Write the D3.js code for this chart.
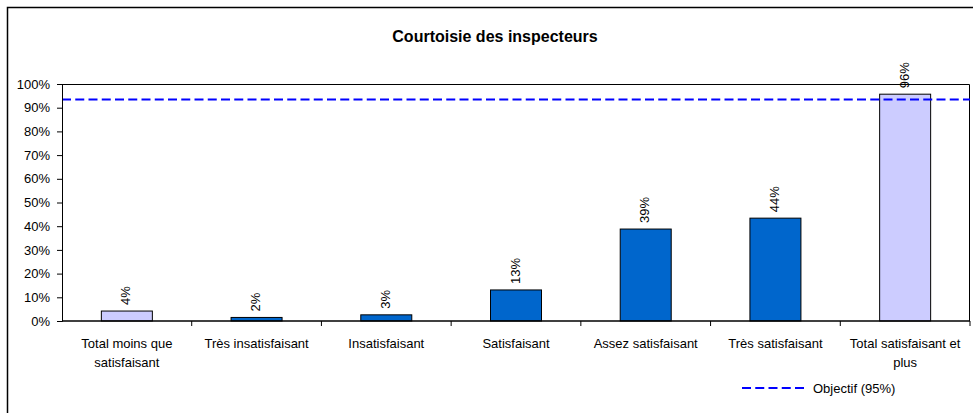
<!DOCTYPE html>
<html>
<head>
<meta charset="utf-8">
<script src="https://cdn.jsdelivr.net/npm/d3@7"></script>
<style>
  body { margin: 0; background: #fff; }
  svg text { font-family: Arial, "Liberation Sans", sans-serif; fill: #000; }
</style>
</head>
<body>
<svg id="chart" width="973" height="413"></svg>
<script>
var categories = ["Total moins que satisfaisant", "Très insatisfaisant", "Insatisfaisant",
                  "Satisfaisant", "Assez satisfaisant", "Très satisfaisant", "Total satisfaisant et plus"];
var values = [4.2, 1.5, 2.6, 13.1, 38.8, 43.4, 95.7];
var labels = ["4%", "2%", "3%", "13%", "39%", "44%", "96%"];
var isTotal = [true, false, false, false, false, false, true];
var objectif = 93.5;
var yTicks = [0, 10, 20, 30, 40, 50, 60, 70, 80, 90, 100];

var svg = d3.select("#chart"),
    margin = {top: 84, right: 3, bottom: 92, left: 62},
    width = +svg.attr("width") - margin.left - margin.right,
    height = +svg.attr("height") - margin.top - margin.bottom;

// outer frame (only top and left visible)
svg.append("rect")
    .attr("x", 7.5).attr("y", 7.5)
    .attr("width", 1000).attr("height", 500)
    .attr("fill", "none").attr("stroke", "#000").attr("stroke-width", 1.5);

svg.append("text")
    .attr("x", 495).attr("y", 42)
    .attr("text-anchor", "middle")
    .style("font-size", "16px").style("font-weight", "bold")
    .text("Courtoisie des inspecteurs");

var xb = d3.scaleBand().domain(categories).range([0, width]),
    y = d3.scaleLinear().domain([0, 100]).range([height, 0]);

var g = svg.append("g").attr("transform", "translate(" + margin.left + "," + margin.top + ")");

// plot frame top + right
g.append("path")
    .attr("d", "M0,0.5H" + (width - 0.5) + "V" + height)
    .attr("fill", "none").attr("stroke", "#000");

g.selectAll(".bar")
    .data(values)
    .enter().append("rect")
    .attr("class", "bar")
    .attr("x", function(d, i) { return xb(categories[i]) + xb.bandwidth() / 2 - 25.5; })
    .attr("y", function(d) { return y(d); })
    .attr("width", 51)
    .attr("height", function(d) { return height - y(d); })
    .attr("fill", function(d, i) { return isTotal[i] ? "#CCCCFF" : "#0066CC"; })
    .attr("stroke", "#000").attr("stroke-width", 1);

g.selectAll(".vlabel")
    .data(values)
    .enter().append("text")
    .attr("class", "vlabel")
    .attr("transform", function(d, i) {
        return "translate(" + (xb(categories[i]) + xb.bandwidth() / 2 + 3.5) + "," + (y(d) - 6) + ") rotate(-90)";
    })
    .style("font-size", "13px")
    .text(function(d, i) { return labels[i]; });

// objectif line
g.append("line")
    .attr("x1", 0).attr("x2", width)
    .attr("y1", y(objectif)).attr("y2", y(objectif))
    .attr("stroke", "#0000FF").attr("stroke-width", 2)
    .attr("stroke-dasharray", "9,4.25");

// y axis
var yAxis = g.append("g")
    .call(d3.axisLeft(y).tickValues(yTicks).tickSize(5).tickFormat(function(d) { return d + "%"; }));
yAxis.select(".domain").attr("stroke", "#000");
yAxis.selectAll("text").style("font-size", "13px").attr("x", -12);

// x axis with ticks at band edges
var xAxis = g.append("g").attr("transform", "translate(0," + height + ")");
xAxis.append("line").attr("x1", 0).attr("x2", width).attr("stroke", "#000").attr("stroke-width", 1.5);
xAxis.selectAll(".xtick")
    .data(categories)
    .enter().append("line")
    .attr("x1", function(d) { return xb(d) + xb.bandwidth(); })
    .attr("x2", function(d) { return xb(d) + xb.bandwidth(); })
    .attr("y1", 0).attr("y2", 5)
    .attr("stroke", "#000");

var xl = xAxis.selectAll(".xlabel")
    .data(categories)
    .enter().append("text")
    .attr("class", "xlabel")
    .attr("text-anchor", "middle")
    .style("font-size", "13px")
    .attr("y", 27);

xl.each(function(d) {
    var words = d.split(" "), lines = [], cur = "";
    words.forEach(function(w) {
        var t = cur ? cur + " " + w : w;
        if (t.length > 22 && cur) { lines.push(cur); cur = w; } else { cur = t; }
    });
    lines.push(cur);
    var el = d3.select(this);
    lines.forEach(function(l, k) {
        el.append("tspan")
            .attr("x", xb(d) + xb.bandwidth() / 2)
            .attr("dy", k === 0 ? 0 : 19)
            .text(l);
    });
});

// legend
var leg = svg.append("g").attr("transform", "translate(742,388)");
leg.append("line").attr("x1", 0).attr("x2", 62).attr("y1", 0).attr("y2", 0)
    .attr("stroke", "#0000FF").attr("stroke-width", 2).attr("stroke-dasharray", "9,4.25");
leg.append("text").attr("x", 71).attr("y", 4.5).style("font-size", "13px").text("Objectif (95%)");
</script>
</body>
</html>
